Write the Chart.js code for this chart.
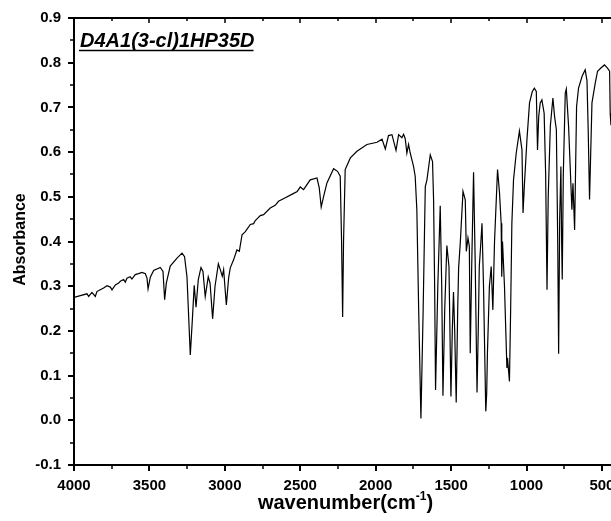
<!DOCTYPE html>
<html>
<head>
<meta charset="utf-8">
<script src="https://cdn.jsdelivr.net/npm/chart.js@4.4.1/dist/chart.umd.min.js"></script>
<style>
    html, body { margin: 0; padding: 0; background: #fff; overflow: hidden; }
    #wrap { width: 611px; height: 521px; overflow: hidden; }
</style>
</head>
<body>
<div id="wrap"><canvas id="irChart" width="640" height="521"></canvas></div>
<script>
// IR spectrum (wavenumber in cm-1, absorbance)
const wavenumbers = [
    4000, 3958, 3914, 3903, 3881, 3859, 3848, 3826, 3804, 3781, 3759, 3748, 3726, 3704, 3693, 3671,
    3660, 3649, 3627, 3616, 3594, 3572, 3549, 3527, 3516, 3509, 3494, 3472, 3428, 3410, 3399, 3388,
    3362, 3317, 3284, 3267, 3251, 3229, 3214, 3203, 3191, 3176, 3158, 3145, 3130, 3110, 3098, 3081,
    3065, 3043, 3030, 3017, 3008, 2990, 2975, 2964, 2942, 2920, 2904, 2886, 2864, 2831, 2809, 2798,
    2765, 2743, 2699, 2666, 2644, 2599, 2553, 2520, 2500, 2478, 2434, 2389, 2374, 2361, 2345, 2323,
    2279, 2253, 2235, 2226, 2219, 2213, 2202, 2168, 2124, 2058, 1991, 1958, 1936, 1915, 1892, 1865,
    1848, 1826, 1815, 1804, 1793, 1782, 1771, 1749, 1738, 1727, 1715, 1700, 1685, 1671, 1660, 1638,
    1623, 1616, 1609, 1603, 1588, 1572, 1562, 1554, 1542, 1528, 1514, 1501, 1492, 1484, 1476, 1466,
    1456, 1450, 1439, 1421, 1406, 1399, 1388, 1379, 1373, 1363, 1351, 1340, 1328, 1320, 1313, 1306,
    1295, 1285, 1270, 1264, 1259, 1246, 1234, 1223, 1212, 1192, 1179, 1168, 1164, 1159, 1146, 1130,
    1126, 1113, 1105, 1097, 1086, 1068, 1047, 1030, 1023, 1015, 997, 980, 962, 948, 935, 927,
    919, 909, 898, 883, 873, 864, 856, 842, 825, 814, 802, 793, 787, 780, 772, 767,
    763, 756, 743, 736, 721, 699, 692, 681, 668, 655, 632, 611, 599, 591, 582, 566,
    544, 529, 507, 483, 463, 449, 445, 440
];
const absorbance = [
    0.275, 0.279, 0.283, 0.277, 0.286, 0.277, 0.288, 0.292, 0.296, 0.301, 0.298, 0.292, 0.303, 0.307, 0.311, 0.315,
    0.309, 0.318, 0.321, 0.316, 0.326, 0.328, 0.331, 0.328, 0.318, 0.294, 0.320, 0.335, 0.342, 0.333, 0.270, 0.307,
    0.345, 0.363, 0.374, 0.366, 0.321, 0.146, 0.233, 0.302, 0.253, 0.315, 0.342, 0.333, 0.277, 0.321, 0.307, 0.227,
    0.300, 0.350, 0.337, 0.322, 0.337, 0.258, 0.318, 0.341, 0.359, 0.381, 0.378, 0.415, 0.422, 0.438, 0.440, 0.447,
    0.458, 0.460, 0.475, 0.481, 0.490, 0.498, 0.506, 0.512, 0.522, 0.516, 0.538, 0.542, 0.520, 0.477, 0.501, 0.531,
    0.563, 0.557, 0.546, 0.400, 0.231, 0.400, 0.561, 0.587, 0.602, 0.617, 0.622, 0.629, 0.607, 0.637, 0.639, 0.604,
    0.639, 0.632, 0.640, 0.630, 0.598, 0.617, 0.598, 0.568, 0.546, 0.471, 0.250, 0.004, 0.250, 0.523, 0.538, 0.594,
    0.579, 0.493, 0.300, 0.068, 0.300, 0.480, 0.300, 0.055, 0.250, 0.391, 0.344, 0.053, 0.200, 0.287, 0.200, 0.040,
    0.250, 0.341, 0.397, 0.512, 0.493, 0.378, 0.408, 0.389, 0.150, 0.350, 0.555, 0.350, 0.062, 0.200, 0.344, 0.380,
    0.441, 0.300, 0.020, 0.060, 0.150, 0.300, 0.344, 0.247, 0.400, 0.561, 0.509, 0.441, 0.321, 0.400, 0.300, 0.117,
    0.140, 0.087, 0.250, 0.441, 0.538, 0.598, 0.647, 0.605, 0.464, 0.520, 0.628, 0.710, 0.735, 0.743, 0.736, 0.605,
    0.680, 0.710, 0.717, 0.687, 0.550, 0.292, 0.500, 0.658, 0.721, 0.680, 0.650, 0.400, 0.149, 0.450, 0.568, 0.400,
    0.315, 0.550, 0.732, 0.741, 0.658, 0.471, 0.530, 0.426, 0.702, 0.743, 0.769, 0.784, 0.760, 0.650, 0.494, 0.710,
    0.755, 0.781, 0.788, 0.795, 0.788, 0.781, 0.687, 0.660
];
const xTickValues = [4000, 3500, 3000, 2500, 2000, 1500, 1000, 500];
const yTickValues = [-0.1, 0, 0.1, 0.2, 0.3, 0.4, 0.5, 0.6, 0.7, 0.8, 0.9];
const sampleName = 'D4A1(3-cl)1HP35D';

const fontFamily = '"Liberation Sans", Arial, sans-serif';

// frame, minor ticks, axis titles and the sample label
const decorPlugin = {
    id: 'decor',
    afterDraw(chart) {
        const { ctx, chartArea: a, scales: { x, y } } = chart;
        ctx.save();
        ctx.strokeStyle = '#000';
        ctx.lineWidth = 2;
        ctx.beginPath();
        ctx.moveTo(a.left, a.top);
        ctx.lineTo(a.right, a.top);
        ctx.lineTo(a.right, a.bottom);
        ctx.stroke();

        ctx.lineWidth = 1.5;
        ctx.beginPath();
        for (let v = 500; v <= 4000; v += 250) {
            const px = Math.round(x.getPixelForValue(v));
            const major = v % 500 === 0;
            ctx.moveTo(px, a.top);
            ctx.lineTo(px, a.top + (major ? 5 : 3));
            if (!major) {
                ctx.moveTo(px, a.bottom);
                ctx.lineTo(px, a.bottom + 4);
            }
        }
        for (let i = -2; i <= 18; i++) {
            if (i % 2 === 0) continue;
            const py = Math.round(y.getPixelForValue(i * 0.05));
            ctx.moveTo(a.left, py);
            ctx.lineTo(a.left - 4, py);
        }
        ctx.stroke();

        ctx.fillStyle = '#000';
        // x title with superscript
        const main = 'wavenumber(cm';
        const sup = '-1';
        const tail = ')';
        ctx.font = 'bold 20px ' + fontFamily;
        const wMain = ctx.measureText(main).width;
        const wTail = ctx.measureText(tail).width;
        ctx.font = 'bold 12px ' + fontFamily;
        const wSup = ctx.measureText(sup).width;
        const cx = (a.left + a.right) / 2;
        let tx = cx - (wMain + wSup + wTail) / 2;
        const base = 509;
        ctx.textBaseline = 'alphabetic';
        ctx.textAlign = 'left';
        ctx.font = 'bold 20px ' + fontFamily;
        ctx.fillText(main, tx, base);
        ctx.font = 'bold 12px ' + fontFamily;
        ctx.fillText(sup, tx + wMain, base - 9);
        ctx.font = 'bold 20px ' + fontFamily;
        ctx.fillText(tail, tx + wMain + wSup, base);

        // y title
        ctx.save();
        ctx.translate(21, (a.top + a.bottom) / 2 - 2);
        ctx.rotate(-Math.PI / 2);
        ctx.textAlign = 'center';
        ctx.textBaseline = 'middle';
        ctx.font = 'bold 16px ' + fontFamily;
        ctx.fillText('Absorbance', 0, 0);
        ctx.restore();

        // sample label, underlined
        ctx.font = 'italic bold 20px ' + fontFamily;
        ctx.textAlign = 'left';
        ctx.textBaseline = 'alphabetic';
        ctx.fillText(sampleName, 80, 47);
        const wl = ctx.measureText(sampleName).width;
        ctx.lineWidth = 1.5;
        ctx.beginPath();
        ctx.moveTo(79, 50.5);
        ctx.lineTo(79 + wl, 50.5);
        ctx.stroke();
        ctx.restore();
    }
};

const points = wavenumbers.map((w, i) => ({ x: w, y: absorbance[i] }));

const ctx = document.getElementById('irChart').getContext('2d');
new Chart(ctx, {
    type: 'line',
    data: {
        datasets: [{
            label: sampleName,
            data: points,
            borderColor: '#000',
            borderWidth: 1.2,
            pointRadius: 0,
            tension: 0,
            fill: false
        }]
    },
    options: {
        responsive: false,
        animation: false,
        devicePixelRatio: 1,
        layout: { padding: { left: 0, right: 23, top: 18, bottom: 0 } },
        plugins: {
            legend: { display: false },
            tooltip: { enabled: false }
        },
        scales: {
            x: {
                type: 'linear',
                reverse: true,
                min: 400,
                max: 4000,
                afterBuildTicks: s => { s.ticks = xTickValues.map(v => ({ value: v })); },
                afterFit: s => { s.height = 56; },
                ticks: {
                    color: '#000',
                    font: { family: fontFamily, size: 15, weight: 'bold' },
                    padding: 6,
                    maxRotation: 0,
                    autoSkip: false,
                    callback: v => String(v)
                },
                grid: { drawOnChartArea: false, drawTicks: true, tickLength: 6, color: '#000', lineWidth: 2 },
                border: { color: '#000', width: 2 }
            },
            y: {
                min: -0.1,
                max: 0.9,
                afterBuildTicks: s => { s.ticks = yTickValues.map(v => ({ value: v })); },
                afterFit: s => { s.width = 74; },
                ticks: {
                    color: '#000',
                    font: { family: fontFamily, size: 15, weight: 'bold' },
                    padding: 7,
                    autoSkip: false,
                    callback: v => v.toFixed(1)
                },
                grid: { drawOnChartArea: false, drawTicks: true, tickLength: 6, color: '#000', lineWidth: 2 },
                border: { color: '#000', width: 2 }
            }
        }
    },
    plugins: [decorPlugin]
});
</script>
</body>
</html>
